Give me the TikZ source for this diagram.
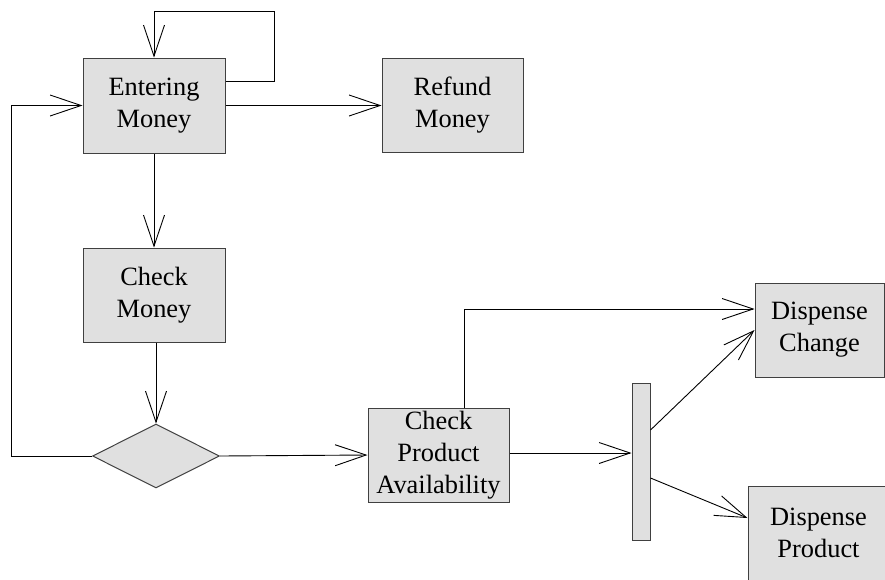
\documentclass[tikz,border=0pt]{standalone}
\usepackage{fontspec}
\setmainfont{Liberation Serif}
\usetikzlibrary{arrows.meta,shapes.geometric}
\definecolor{boxfill}{RGB}{224,224,224}
\begin{document}
\begin{tikzpicture}[x=1pt,y=-1pt,
  box/.style={draw=black!75, fill=boxfill, line width=1pt, rectangle, inner sep=0pt, align=center,
    font=\fontsize{26.4}{32}\selectfont},
  arr/.style={draw=black, line width=0.9pt, -{Straight Barb[length=31pt,width=21pt]}},
  ln/.style={draw=black, line width=0.9pt}]
\useasboundingbox (0,0) rectangle (885,579);
\clip (0,0) rectangle (885,579);
\node[box, minimum width=142pt, minimum height=95pt] (em) at (154,105.5) {Entering\\Money};
\node[box, minimum width=141pt, minimum height=94pt] (rm) at (452.5,105) {Refund\\Money};
\node[box, minimum width=142pt, minimum height=94pt] (cm) at (154,295) {Check\\Money};
\node[draw=black!75, fill=boxfill, line width=1pt, diamond, inner sep=0pt, minimum width=127pt, minimum height=64pt] (dia) at (156,456) {};
\node[box, minimum width=141pt, minimum height=94pt] (cpa) at (438.5,455) {Check\\Product\\Availability};
\node[box, minimum width=18pt, minimum height=157pt] (bar) at (641,461.5) {};
\node[box, minimum width=129pt, minimum height=94pt] (dc) at (819.5,330) {Dispense\\Change};
\node[box, minimum width=141pt, minimum height=94pt] (dp) at (818.5,533) {Dispense\\Product};
\coordinate (lt) at (274,11);
\coordinate (lb) at (11,456);
\draw[arr] ([yshift=24.5pt]em.east) -| (lt) -| (em.north);
\draw[arr] (em.east) -- (em.east -| rm.west);
\draw[arr] (em) -- (cm);
\draw[arr] (cm.south -| dia.north) -- (dia.north);
\draw[arr] (dia.west) -- (lb) |- (em.west);
\draw[arr] (dia.east) -- (cpa.west);
\draw[arr] ([xshift=25.5pt]cpa.north) |- ([yshift=21pt]dc.west);
\draw[arr] ([yshift=2pt]cpa.east) -- ([yshift=2pt]cpa.east -| bar.west);
\draw[arr] ([yshift=31.5pt]bar.east) -- (dc.west);
\draw[arr] ([yshift=-16.5pt]bar.east) -- ([yshift=15pt]dp.west);
\end{tikzpicture}
\end{document}
